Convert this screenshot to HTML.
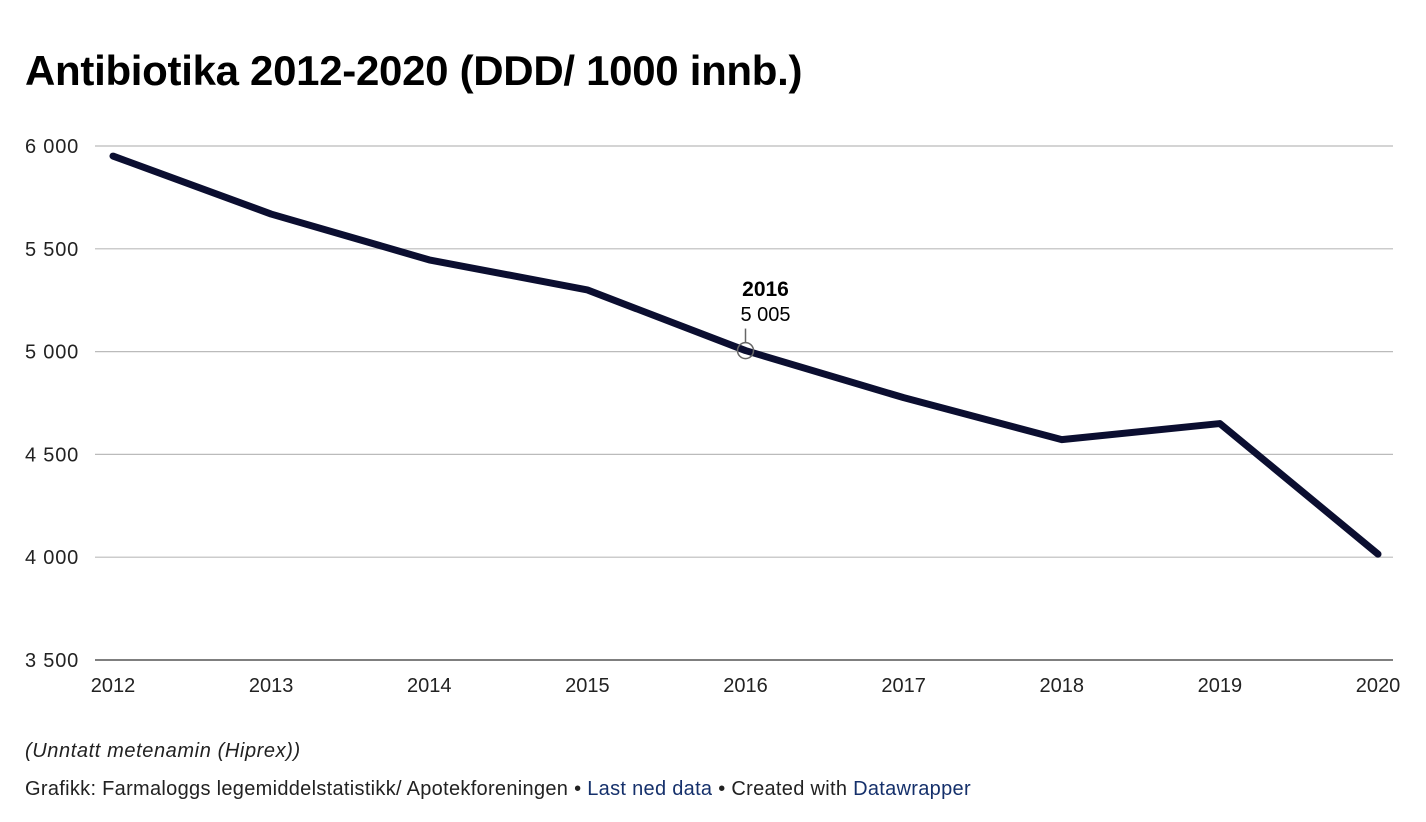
<!DOCTYPE html>
<html><head><meta charset="utf-8"><style>
body{margin:0;width:1426px;height:822px;background:#fff;font-family:"Liberation Sans",sans-serif;overflow:hidden;position:relative}
#title{position:absolute;left:25px;top:47px;font-size:42px;font-weight:bold;color:#000;letter-spacing:-0.3px}
#note{position:absolute;left:25px;top:740px;font-size:20px;font-style:italic;color:#222;letter-spacing:0.6px}
#credit{position:absolute;left:25px;top:778px;font-size:20px;color:#222;letter-spacing:0.3px}
#credit a{color:#15306b;text-decoration:none}
</style></head><body>
<div id="title">Antibiotika 2012-2020 (DDD/ 1000 innb.)</div>
<svg id="chart" width="1426" height="822" style="position:absolute;left:0;top:0"></svg>
<div id="note">(Unntatt metenamin (Hiprex))</div>
<div id="credit">Grafikk: Farmaloggs legemiddelstatistikk/ Apotekforeningen • <a>Last ned data</a> • Created with <a>Datawrapper</a></div>
<script>
const years=[2012,2013,2014,2015,2016,2017,2018,2019,2020];
const values=[5951,5669,5446,5300,5005,4776,4572,4650,4015];
const yTicks=[3500,4000,4500,5000,5500,6000];
const yTickLabels=["3 500","4 000","4 500","5 000","5 500","6 000"];
const hlYear=2016, hlLabel="5 005";
const svg=document.getElementById('chart');
const NS="http://www.w3.org/2000/svg";
const x=v=>113+(v-2012)*(1378-113)/8;
const y=v=>660-(v-3500)*(660-146)/2500;
function mk(t,a){const e=document.createElementNS(NS,t);for(const k in a)e.setAttribute(k,a[k]);svg.appendChild(e);return e;}
yTicks.forEach((t,i)=>{
 const l=mk('line',{x1:95,x2:1393,y1:y(t),y2:y(t),stroke:i==0?'#555':'#bbb','stroke-width':i==0?1.5:1.2});
 
 
 const tx=mk('text',{x:25,y:y(t)+7,'font-size':20,fill:'#222','font-family':'Liberation Sans','letter-spacing':'0.8'});
 tx.textContent=yTickLabels[i];
 
 
});
years.forEach(yr=>{
 const tx=mk('text',{x:x(yr),y:692,'font-size':20,fill:'#222','text-anchor':'middle','font-family':'Liberation Sans'});
 tx.textContent=yr;
 
 
});
const p=mk('polyline',{points:years.map((yr,i)=>x(yr)+','+y(values[i])).join(' '),fill:'none',stroke:'#0b0e30','stroke-width':7,'stroke-linejoin':'round','stroke-linecap':'round'});


const hi=years.indexOf(hlYear);const hx=x(hlYear),hy=y(values[hi]);
const c=mk('circle',{cx:hx,cy:hy,r:8,fill:'none',stroke:'#666','stroke-width':1.5});


const ln=mk('line',{x1:hx,x2:hx,y1:hy-8,y2:hy-22,stroke:'#666','stroke-width':1.5});


const t1=mk('text',{x:hx+20,y:296,'font-size':21,'font-weight':'bold','text-anchor':'middle',fill:'#000','font-family':'Liberation Sans'});
t1.textContent=hlYear;


const t2=mk('text',{x:hx+20,y:321,'font-size':20,'text-anchor':'middle',fill:'#000','font-family':'Liberation Sans'});
t2.textContent=hlLabel;


</script>
</body></html>
